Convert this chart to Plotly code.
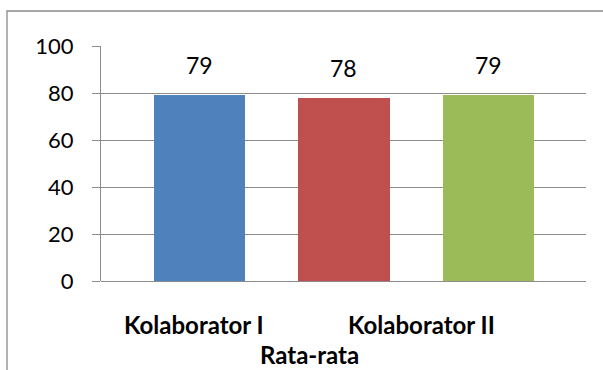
import plotly.graph_objects as go

# Average scores per rater
series_names = ["Kolaborator I", "Kolaborator II", "Rata-rata"]
values = [79, 78, 79]
colors = ["#4F81BD", "#C0504D", "#9BBB59"]
y_ticks = [0, 20, 40, 60, 80, 100]

positions = list(range(len(values)))

fig = go.Figure()
for pos, name, val, col in zip(positions, series_names, values, colors):
    fig.add_trace(go.Bar(
        x=[pos], y=[val], name=name, width=0.63,
        marker=dict(color=col, line=dict(width=0)),
        showlegend=False, hoverinfo="skip",
    ))

# value labels above each bar
for pos, val in zip(positions, values):
    fig.add_annotation(
        x=pos, y=val, xref="x", yref="y", text=str(val),
        showarrow=False, yanchor="bottom", yshift=14,
        font=dict(family="Lato", size=23, color="#000000"),
    )

# wrapped category caption under the axis
caption_font = dict(family="Lato", size=24, color="#000000")
fig.add_annotation(x=-0.037, y=-0.187, xref="x", yref="paper",
                   text="<b>Kolaborator I</b>", showarrow=False,
                   yanchor="middle", font=caption_font)
fig.add_annotation(x=1.533, y=-0.187, xref="x", yref="paper",
                   text="<b>Kolaborator II</b>", showarrow=False,
                   yanchor="middle", font=caption_font)
fig.add_annotation(x=0.758, y=-0.311, xref="x", yref="paper",
                   text="<b>Rata-rata</b>", showarrow=False,
                   yanchor="middle", font=caption_font)

# chart frame
fig.add_shape(type="rect", xref="paper", yref="paper",
              x0=-0.1938, x1=1.1, y0=-0.5, y1=1.149,
              line=dict(color="#8a8a8a", width=1.3), fillcolor="rgba(0,0,0,0)",
              layer="below")

fig.update_layout(
    width=603, height=370,
    margin=dict(l=101, r=17, t=46, b=89),
    paper_bgcolor="white", plot_bgcolor="white",
    bargap=0,
)
fig.update_xaxes(
    range=[-0.6817, 2.675], showticklabels=False, showgrid=False,
    zeroline=False, showline=False, ticks="",
)
fig.update_yaxes(
    range=[0, 100], tickvals=y_ticks, ticktext=[str(t) for t in y_ticks],
    showgrid=True, gridcolor="#8c8c8c", gridwidth=1,
    zeroline=True, zerolinecolor="#8c8c8c", zerolinewidth=1,
    showline=True, linecolor="#8c8c8c", linewidth=1,
    ticks="outside", ticklen=8, tickcolor="#8c8c8c", tickwidth=1,
    tickfont=dict(family="Lato", size=22, color="#000000"),
    ticklabelstandoff=14,
)

fig.write_html("out.html")
